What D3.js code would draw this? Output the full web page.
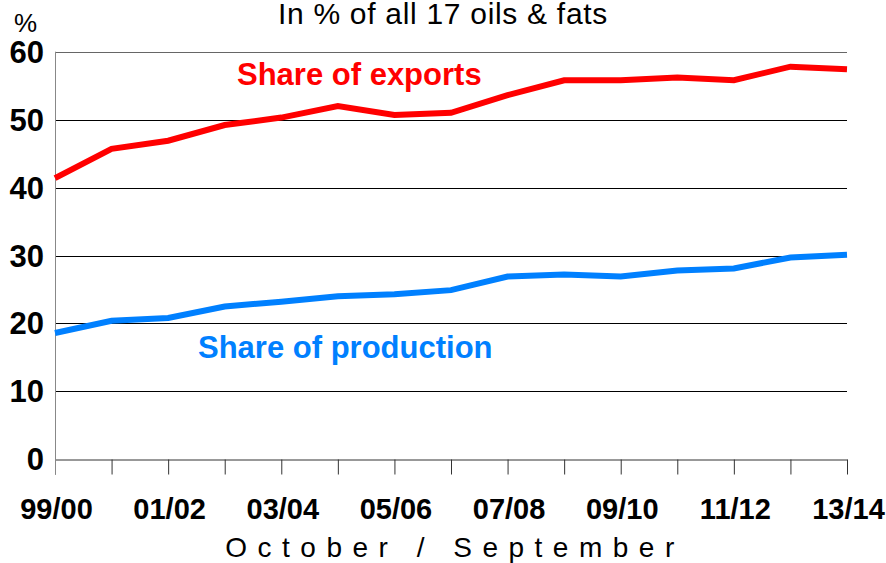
<!DOCTYPE html>
<html>
<head>
<meta charset="utf-8">
<script src="https://cdn.jsdelivr.net/npm/d3@7"></script>
<style>
  body { margin: 0; background: #fff; }
  text { font-family: "Liberation Sans", Arial, sans-serif; }
</style>
</head>
<body>
<div id="d3-container"></div>
<script>
/**
 * DATA
 * */
const seasons = ["99/00", "00/01", "01/02", "02/03", "03/04", "04/05", "05/06",
  "06/07", "07/08", "08/09", "09/10", "10/11", "11/12", "12/13", "13/14"];
const exportsShare = [41.4, 45.7, 46.9, 49.2, 50.3, 52.0, 50.7, 51.0, 53.6,
  55.8, 55.8, 56.2, 55.8, 57.8, 57.4];
const productionShare = [18.6, 20.4, 20.8, 22.5, 23.2, 24.0, 24.3, 24.9, 26.9,
  27.2, 26.9, 27.8, 28.1, 29.7, 30.1];
const yTicks = [0, 10, 20, 30, 40, 50, 60];

/**
 * CONSTANTS
 * */
const width = 886,
  height = 563,
  margin = { top: 51.7, bottom: 103.7, left: 55, right: 39 };

const svg = d3.select("#d3-container")
  .append("svg")
  .attr("width", width)
  .attr("height", height);

const x = d3.scalePoint()
  .domain(seasons)
  .range([margin.left, width - margin.right]);

const y = d3.scaleLinear()
  .domain([0, 60])
  .range([height - margin.bottom, margin.top]);

// gridlines
svg.selectAll("line.grid")
  .data(yTicks.filter(d => d > 0))
  .join("line")
  .attr("class", "grid")
  .attr("x1", margin.left)
  .attr("x2", width - margin.right)
  .attr("y1", d => Math.round(y(d)) + 0.5)
  .attr("y2", d => Math.round(y(d)) + 0.5)
  .attr("stroke", d => d === 60 ? "#666" : "#000")
  .attr("stroke-width", 1);

// x axis: a tick at each season, labels on every other one
const xAxis = svg.append("g")
  .attr("transform", `translate(0, ${Math.round(y(0)) + 0.5})`)
  .call(d3.axisBottom(x)
    .tickSize(15)
    .tickSizeOuter(0)
    .tickFormat((d, i) => i % 2 === 0 ? d : ""));

xAxis.select(".domain").attr("stroke", "#333");
xAxis.selectAll(".tick line").attr("stroke", "#333");
xAxis.selectAll(".tick text")
  .attr("y", 39)
  .attr("dy", "0.71em")
  .attr("dx", 1)
  .attr("fill", "#000")
  .style("font-family", "'Liberation Sans', Arial, sans-serif")
  .style("font-size", "29px")
  .style("font-weight", "bold");

// y axis line
svg.append("line")
  .attr("x1", margin.left + 0.5)
  .attr("x2", margin.left + 0.5)
  .attr("y1", y(60))
  .attr("y2", y(0) + 15)
  .attr("stroke", "#888")
  .attr("stroke-width", 1);

// y tick labels
svg.selectAll("text.ylab")
  .data(yTicks)
  .join("text")
  .attr("class", "ylab")
  .attr("x", 44)
  .attr("y", d => y(d) + 11)
  .attr("text-anchor", "end")
  .style("font-size", "31px")
  .style("font-weight", "bold")
  .text(d => d);

svg.append("text")
  .attr("x", 14)
  .attr("y", 32)
  .style("font-size", "26px")
  .text("%");

// title
svg.append("text")
  .attr("x", 443)
  .attr("y", 24)
  .attr("text-anchor", "middle")
  .style("font-size", "30px")
  .style("letter-spacing", "0.7px")
  .text("In % of all 17 oils & fats");

// x axis title
svg.append("text")
  .attr("x", 455)
  .attr("y", 557)
  .attr("text-anchor", "middle")
  .style("font-size", "28px")
  .style("letter-spacing", "10.5px")
  .text("October / September");

// lines
const line = d3.line()
  .x((d, i) => x(seasons[i]))
  .y(d => y(d));

svg.append("path")
  .datum(exportsShare)
  .attr("fill", "none")
  .attr("stroke", "#ff0000")
  .attr("stroke-width", 6)
  .attr("d", line);

svg.append("path")
  .datum(productionShare)
  .attr("fill", "none")
  .attr("stroke", "#0080ff")
  .attr("stroke-width", 6)
  .attr("d", line);

// series labels
svg.append("text")
  .attr("x", 237)
  .attr("y", 85)
  .attr("fill", "#ff0000")
  .style("font-size", "31px")
  .style("font-weight", "bold")
  .text("Share of exports");

svg.append("text")
  .attr("x", 198)
  .attr("y", 358)
  .attr("fill", "#0080ff")
  .style("font-size", "31px")
  .style("font-weight", "bold")
  .text("Share of production");
</script>
</body>
</html>
